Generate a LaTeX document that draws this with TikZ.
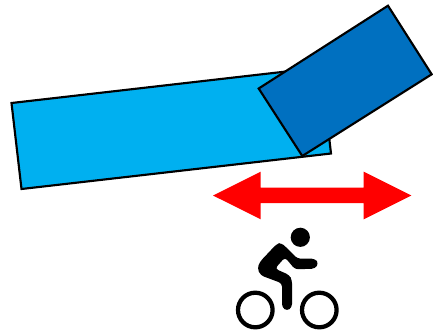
\documentclass[tikz,border=0pt]{standalone}
\definecolor{lightblue}{RGB}{0,176,240}
\definecolor{darkblue}{RGB}{0,112,192}
\tikzset{
  x=0.75pt,y=-0.75pt,
  beam/.style={draw=black,line width=1.6pt,line join=miter},
  wheel/.style={draw=black,line width=3.2pt}
}
\begin{document}
\begin{tikzpicture}
\useasboundingbox (0,0) rectangle (433,330);
\fill[white] (0,0) rectangle (433,330);
% beams
\draw[beam,fill=lightblue] (11.5,103) -- (21.5,189) -- (331,153.5) -- (321,67.5) -- cycle;
\draw[beam,fill=darkblue] (258.7,88.5) -- (388,5.7) -- (431.7,74.3) -- (302.3,156) -- cycle;
% double arrow
\fill[red] (213,195.5) -- (260.7,171.7) -- (260.7,187.5) -- (363.7,187.5) -- (363.7,171.7) -- (411.3,195.5) -- (363.7,219.3) -- (363.7,203.2) -- (260.7,203.2) -- (260.7,219.3) -- cycle;
% cyclist
\fill[black] (300.3,237.3) circle (9.6);
\draw[wheel] (255.3,310) circle (17.3);
\draw[wheel] (319.3,310) circle (17.3);
\begin{scope}[shift={(220,220)},x=0.25pt,y=-0.25pt]
\fill[black,rounded corners=2.5pt] (183,68) -- (205,88) -- (232,116) -- (285,116) -- (296,130) -- (285,146) -- (225,148) -- (195,112) -- (165,146) -- (208,165) -- (216,180) -- (216,262) -- (201,273) -- (186,262) -- (186,190) -- (122,166) -- (112,145) -- (120,125) -- (170,72) -- cycle;
\end{scope}
\end{tikzpicture}
\end{document}
